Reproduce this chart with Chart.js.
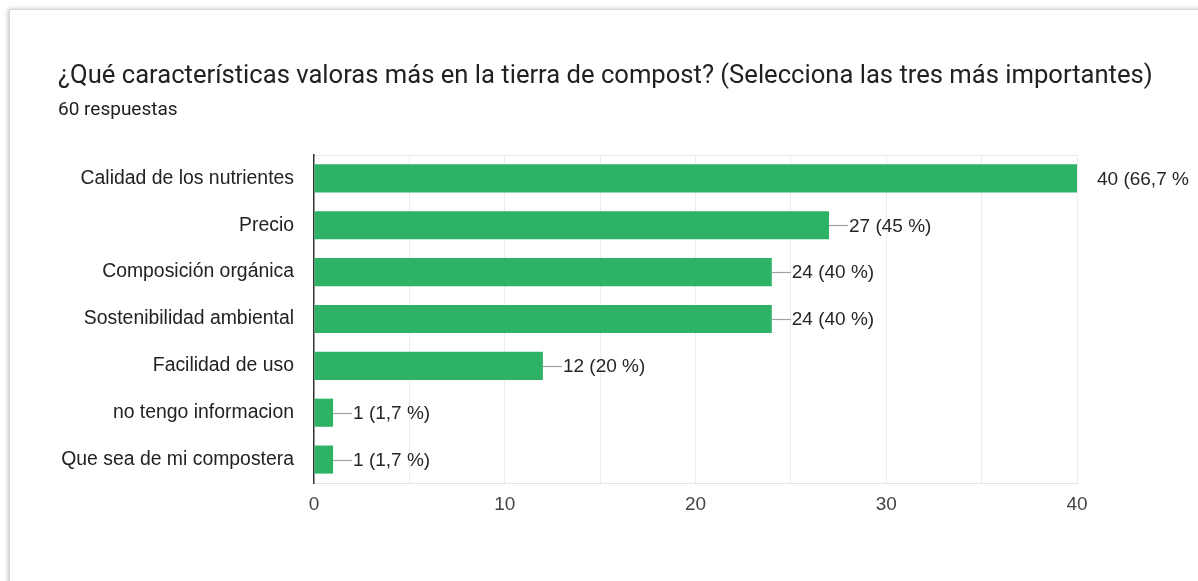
<!DOCTYPE html>
<html>
<head>
<meta charset="utf-8">
<script src="https://cdn.jsdelivr.net/npm/chart.js@4/dist/chart.umd.min.js"></script>
<style>
  html, body { margin: 0; padding: 0; background: #fff; width: 1198px; height: 581px; overflow: hidden; }
  .card {
    position: absolute; left: 9px; top: 9px; width: 1300px; height: 700px;
    background: #fff; border: 1px solid #d6d6d6; border-radius: 2px;
    box-shadow: -1px 0 4px rgba(0,0,0,0.25);
  }
  #chart { position: absolute; left: 0; top: 0; }
  .title {
    position: absolute; left: 58px; top: 62px; margin: 0;
    font: 400 25.6px Roboto, sans-serif; line-height: 25.6px; color: #202124; white-space: nowrap;
  }
  .sub {
    position: absolute; left: 58px; top: 99px; margin: 0;
    font: 400 19px Roboto, sans-serif; line-height: 19px; color: #202124; white-space: nowrap;
  }
</style>
</head>
<body>
<div class="card"></div>
<canvas id="chart" width="1198" height="581"></canvas>
<div class="title">¿Qué características valoras más en la tierra de compost? (Selecciona las tres más importantes)</div>
<div class="sub">60 respuestas</div>
<script>
var categories = [
    'Calidad de los nutrientes',
    'Precio',
    'Composición orgánica',
    'Sostenibilidad ambiental',
    'Facilidad de uso',
    'no tengo informacion',
    'Que sea de mi compostera'
];
var respuestas = [40, 27, 24, 24, 12, 1, 1];
var totalRespuestas = 60;
var xTicks = [0, 10, 20, 30, 40];

var fontFamily = '"Liberation Sans", Arial, sans-serif';

function percentText(v) {
    var p = Math.round(v / totalRespuestas * 1000) / 10;
    return String(p).replace('.', ',') + ' %';
}

// value labels with a short leader line after each bar
var barLabels = {
    id: 'barLabels',
    afterDatasetsDraw: function(chart) {
        var ctx = chart.ctx;
        var meta = chart.getDatasetMeta(0);
        var xMax = chart.scales.x.max;
        ctx.save();
        ctx.beginPath();
        ctx.rect(0, 0, 1189, chart.height);
        ctx.clip();
        meta.data.forEach(function(bar, i) {
            var v = respuestas[i];
            if (v < xMax) {
                ctx.strokeStyle = '#a0a0a0';
                ctx.lineWidth = 1.2;
                ctx.beginPath();
                ctx.moveTo(bar.x, Math.round(bar.y) + 0.5);
                ctx.lineTo(bar.x + 19, Math.round(bar.y) + 0.5);
                ctx.stroke();
            }
            ctx.fillStyle = '#262626';
            ctx.font = '19px ' + fontFamily;
            ctx.textAlign = 'left';
            ctx.textBaseline = 'middle';
            ctx.fillText(v + ' (' + percentText(v) + ')', bar.x + 20, bar.y + 1);
        });
        ctx.restore();
    }
};

new Chart(document.getElementById('chart'), {
    type: 'bar',
    data: {
        labels: categories,
        datasets: [{
            data: respuestas,
            backgroundColor: '#2eb265',
            borderWidth: 0,
            barPercentage: 0.6,
            categoryPercentage: 1
        }]
    },
    plugins: [barLabels],
    options: {
        indexAxis: 'y',
        responsive: false,
        animation: false,
        layout: { padding: { top: 155, right: 121, bottom: 0, left: 0 } },
        plugins: {
            legend: { display: false },
            tooltip: { enabled: false }
        },
        scales: {
            x: {
                min: xTicks[0],
                max: xTicks[xTicks.length - 1],
                afterFit: function(s) { s.height = 98; },
                ticks: {
                    stepSize: 5,
                    padding: 10,
                    color: '#444',
                    font: { family: fontFamily, size: 19 },
                    callback: function(v) { return xTicks.indexOf(v) >= 0 ? v : ''; }
                },
                grid: {
                    drawTicks: false,
                    color: function(c) { return c.tick && c.tick.value === 0 ? 'rgba(0,0,0,0)' : '#ebebeb'; }
                },
                border: { color: '#e3e3e3' }
            },
            y: {
                afterFit: function(s) { s.width = 314; },
                ticks: {
                    padding: 20,
                    color: '#222',
                    font: { family: fontFamily, size: 19.4 }
                },
                grid: {
                    drawTicks: false,
                    color: function(c) { return c.index === 0 ? '#ebebeb' : 'rgba(0,0,0,0)'; }
                },
                border: { color: '#333', width: 1.5 }
            }
        }
    }
});
</script>
</body>
</html>
